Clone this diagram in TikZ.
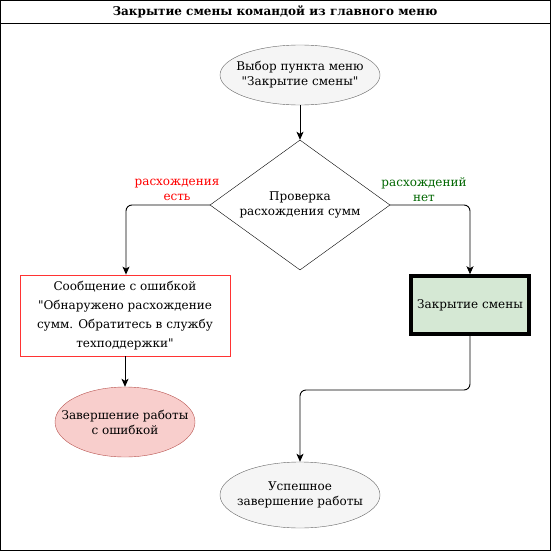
\documentclass[tikz,border=0pt]{standalone}
\usepackage{fontspec}
\setmainfont{DejaVu Serif}
\usetikzlibrary{arrows.meta,shapes.geometric}

\definecolor{greyfill}{HTML}{F5F5F5}
\definecolor{greyline}{HTML}{666666}
\definecolor{errfill}{HTML}{F8CECC}
\definecolor{errline}{HTML}{B85450}
\definecolor{okfill}{HTML}{D5E8D4}
\definecolor{msgline}{HTML}{FF3333}
\definecolor{yescol}{HTML}{FF0000}
\definecolor{nocol}{HTML}{006600}

\tikzset{
  term/.style={ellipse, draw=greyline, fill=greyfill, inner xsep=-30pt, inner ysep=-10pt, align=center},
  flow/.style={-{Stealth[length=8pt,width=7pt,inset=2pt]}, line width=0.9pt, rounded corners=6pt},
}

\begin{document}
\begin{tikzpicture}[x=1pt,y=-1pt,font=\fontsize{12}{15}\selectfont]
  \useasboundingbox (0,0) rectangle (551,551);
  \draw[line width=0.9pt] (0.5,0.5) rectangle (550.5,550.5);
  \draw[line width=0.9pt] (0.5,23) -- (550.5,23);
  \node[font=\fontsize{12}{15}\selectfont\bfseries] (title) at (275,12) {Закрытие смены командой из главного меню};

  \node[term, minimum width=160, minimum height=60] (start) at (300,75) {Выбор пункта меню\\\textquotedbl Закрытие смены\textquotedbl};

  \node[diamond, draw, inner sep=0pt, aspect=1.385, minimum width=180, minimum height=130, align=center] (check) at (300,205) {Проверка\\расхождения сумм};

  \node[text=yescol, align=center] (yes) at (177,190) {расхождения\\есть};
  \node[text=nocol, align=center] (no) at (424,190) {расхождений\\нет};

  \node[draw=msgline, line width=0.8pt, minimum width=210, minimum height=81, inner sep=0pt, align=center,
        font=\fontsize{12}{19}\selectfont] (msg) at (125,315.5)
    {Сообщение с ошибкой\\\textquotedbl Обнаружено расхождение\\сумм. Обратитесь в службу\\техподдержки\textquotedbl};

  \node[term, draw=errline, fill=errfill, minimum width=140, minimum height=70] (fail) at (125,422) {Завершение работы\\с ошибкой};

  \node[draw, line width=3.5pt, fill=okfill, minimum width=118, minimum height=58, inner sep=0pt] (close) at (470,305) {Закрытие смены};

  \node[term, minimum width=160, minimum height=66] (done) at (300,495) {Успешное\\завершение работы};

  \coordinate (bend) at (470,390);

  \draw[flow] (start) -- (check);
  \draw[flow] (check.west) -| ([xshift=1pt]msg.north);
  \draw[flow] (check.east) -| (close.north);
  \draw[flow] (msg) -- (fail);
  \draw[flow] (close.south) -- (bend) -| (done.north);
\end{tikzpicture}
\end{document}
